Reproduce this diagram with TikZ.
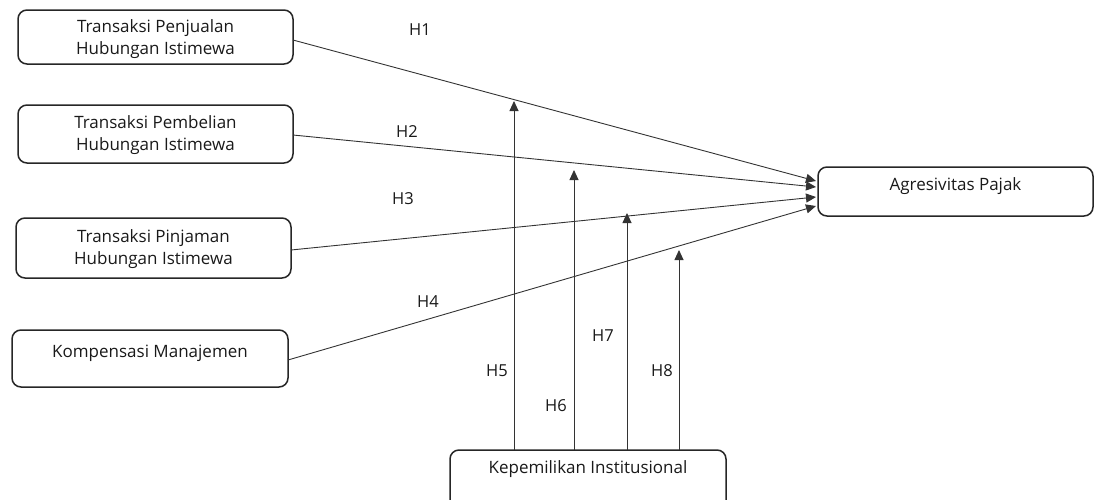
\documentclass[tikz,border=0pt]{standalone}
\usepackage{fontspec}
\setmainfont{Open Sans}
\usetikzlibrary{arrows.meta}
\begin{document}
\begin{tikzpicture}[x=1pt,y=-1pt,
  box/.style={draw=black!85, line width=1.5pt, rounded corners=9pt},
  lbl/.style={font=\fontsize{17}{22.5}\selectfont, text=black!90, align=center},
  hyp/.style={font=\fontsize{16.5}{18}\selectfont, text=black!90},
  arr/.style={draw=black!80, line width=0.9pt, -{Triangle[length=10pt,width=9pt]}}]
\useasboundingbox (0,0) rectangle (1098,499);
\clip (0,0) rectangle (1098,499);
% boxes
\draw[box] (18,10) rectangle (293,64);
\node[lbl] (b1) at (155.5,39) {Transaksi Penjualan\\Hubungan Istimewa};
\draw[box] (18,105) rectangle (293,163);
\node[lbl] (b2) at (155.5,135) {Transaksi Pembelian\\Hubungan Istimewa};
\draw[box] (16,218) rectangle (291,278);
\node[lbl] (b3) at (153.5,249) {Transaksi Pinjaman\\Hubungan Istimewa};
\draw[box] (12,330) rectangle (288,387);
\node[lbl] (b4) at (150,353) {Kompensasi Manajemen};
\draw[box] (818,167) rectangle (1093,216);
\node[lbl] (ag) at (955.5,186) {Agresivitas Pajak};
\draw[box] (450,450) rectangle (726,520);
\node[lbl] (kp) at (588,469) {Kepemilikan Institusional};
% coordinates
\coordinate (s1) at (293,40);
\coordinate (s2) at (293,135);
\coordinate (s3) at (291,250);
\coordinate (s4) at (288,360);
\coordinate (t1) at (816,181);
\coordinate (t2) at (816,187);
\coordinate (t3) at (816,197);
\coordinate (t4) at (816,206);
\draw[arr] (s1) -- (t1);
\draw[arr] (s2) -- (t2);
\draw[arr] (s3) -- (t3);
\draw[arr] (s4) -- (t4);
\coordinate (k5) at (514,450); \coordinate (e5) at (514,101);
\coordinate (k6) at (574,450); \coordinate (e6) at (574,170);
\coordinate (k7) at (627,450); \coordinate (e7) at (627,213);
\coordinate (k8) at (679,450); \coordinate (e8) at (679,250);
\draw[arr] (k5) -- (e5);
\draw[arr] (k6) -- (e6);
\draw[arr] (k7) -- (e7);
\draw[arr] (k8) -- (e8);
% labels
\node[hyp] (h1) at (420,30) {H1};
\node[hyp] (h2) at (407,132) {H2};
\node[hyp] (h3) at (403,199) {H3};
\node[hyp] (h4) at (428,302) {H4};
\node[hyp] (h5) at (497,371) {H5};
\node[hyp] (h6) at (556,406) {H6};
\node[hyp] (h7) at (603,336) {H7};
\node[hyp] (h8) at (662,371) {H8};
\end{tikzpicture}
\end{document}
